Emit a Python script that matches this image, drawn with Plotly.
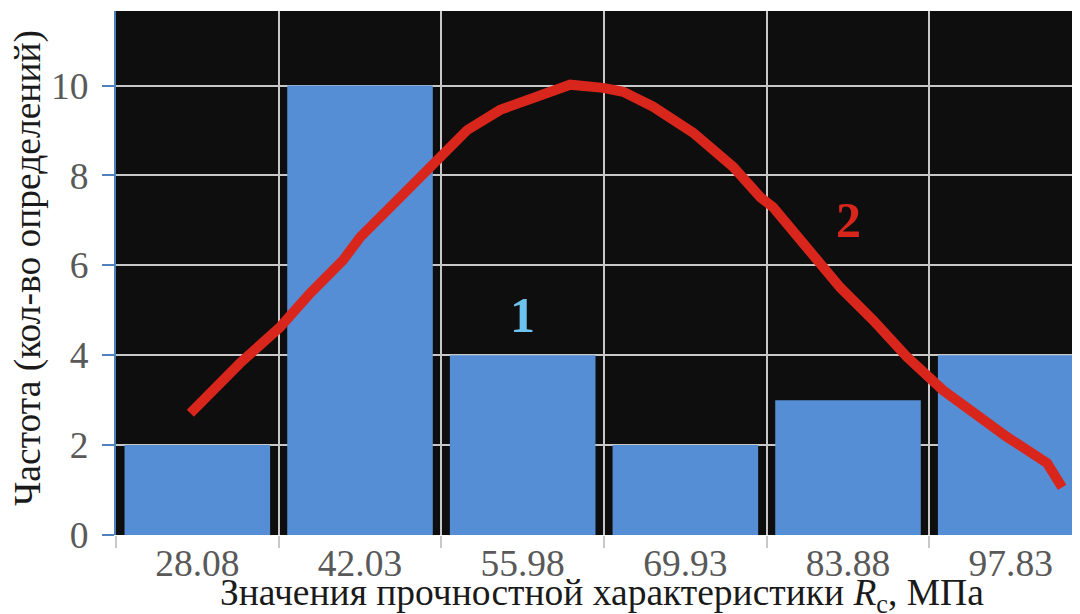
import plotly.graph_objects as go

# --- data ---
bin_labels = ["28.08", "42.03", "55.98", "69.93", "83.88", "97.83"]
bin_centers = [28.08, 42.03, 55.98, 69.93, 83.88, 97.83]
frequencies = [2, 10, 4, 2, 3, 4]

curve_x = [27.48, 31.76, 35.19, 37.76, 40.59, 42.06, 45.22, 48.06, 51.22, 54.05,
           56.89, 60.05, 62.88, 64.60, 67.17, 70.60, 74.03, 76.35, 77.46, 80.38,
           83.20, 86.03, 88.94, 92.03, 94.61, 97.52, 100.95, 102.24]
curve_y = [2.71, 3.83, 4.63, 5.38, 6.12, 6.63, 7.45, 8.19, 9.01, 9.46,
           9.75, 10.02, 9.95, 9.86, 9.53, 8.95, 8.19, 7.52, 7.29, 6.40,
           5.51, 4.78, 3.96, 3.22, 2.71, 2.18, 1.60, 1.06]

y_ticks = [0, 2, 4, 6, 8, 10]

x_title = "Значения прочностной характеристики <i>R</i><sub>c</sub>, МПа"
y_title = "Частота (кол-во определений)"

step = bin_centers[1] - bin_centers[0]
boundaries = [c - step / 2 for c in bin_centers] + [bin_centers[-1] + step / 2]

FONT = "Liberation Serif"
GRID = "#c8c8c8"
FS = 37.5

fig = go.Figure()
fig.add_trace(go.Bar(
    x=bin_centers, y=frequencies, width=step * 0.895,
    marker=dict(color="#568ED6", line=dict(width=0)),
    showlegend=False, hoverinfo="skip",
))
fig.add_trace(go.Scatter(
    x=curve_x, y=curve_y, mode="lines",
    line=dict(color="#D9261C", width=10),
    showlegend=False, hoverinfo="skip",
))

fig.add_annotation(x=bin_centers[2], y=4.9, text="<b>1</b>", showarrow=False,
                   font=dict(family=FONT, size=50, color="#6EC2EE"))
fig.add_annotation(x=bin_centers[4], y=7.0, text="<b>2</b>", showarrow=False,
                   font=dict(family=FONT, size=50, color="#D9261C"))

# axis titles as paper annotations for exact placement
fig.add_annotation(xref="paper", yref="paper", x=0.5, y=0, xshift=4, yshift=-60,
                   xanchor="center", yanchor="middle", text=x_title, showarrow=False,
                   font=dict(family=FONT, size=FS, color="#1a1a1a"))
fig.add_annotation(xref="paper", yref="paper", x=0, y=0.5, xshift=-88, yshift=5,
                   xanchor="center", yanchor="middle", text=y_title, textangle=-90,
                   showarrow=False, font=dict(family=FONT, size=FS, color="#1a1a1a"))

# page body has an 8px margin, so the figure is sized/offset to compensate
fig.update_layout(
    width=1072, height=606,
    margin=dict(l=108, r=0, t=3, b=79),
    paper_bgcolor="white", plot_bgcolor="#0e0e0e",
    font=dict(family=FONT, size=FS, color="#595959"),
)

fig.update_xaxes(
    range=[boundaries[0], bin_centers[-1] + step * 0.426],
    automargin=False,
    tickmode="array", tickvals=bin_centers, ticktext=bin_labels,
    ticks="", showgrid=False, zeroline=False, showline=False,
    tickfont=dict(family=FONT, size=FS, color="#595959"),
    ticklabelstandoff=2,
    minor=dict(tickvals=boundaries, showgrid=True, gridcolor=GRID, gridwidth=2,
               ticks="outside", ticklen=12, tickcolor="#c8c8c8", tickwidth=2),
)

fig.update_yaxes(
    range=[0, 11.66],
    automargin=False,
    tickmode="array", tickvals=y_ticks,
    ticks="outside", ticklen=12, tickcolor="#4F81BD", tickwidth=2,
    showline=True, linecolor="#4F81BD", linewidth=2,
    showgrid=True, gridcolor=GRID, gridwidth=2, zeroline=False,
    tickfont=dict(family=FONT, size=FS, color="#595959"),
    ticklabelstandoff=6,
)

fig.write_html("out.html")
